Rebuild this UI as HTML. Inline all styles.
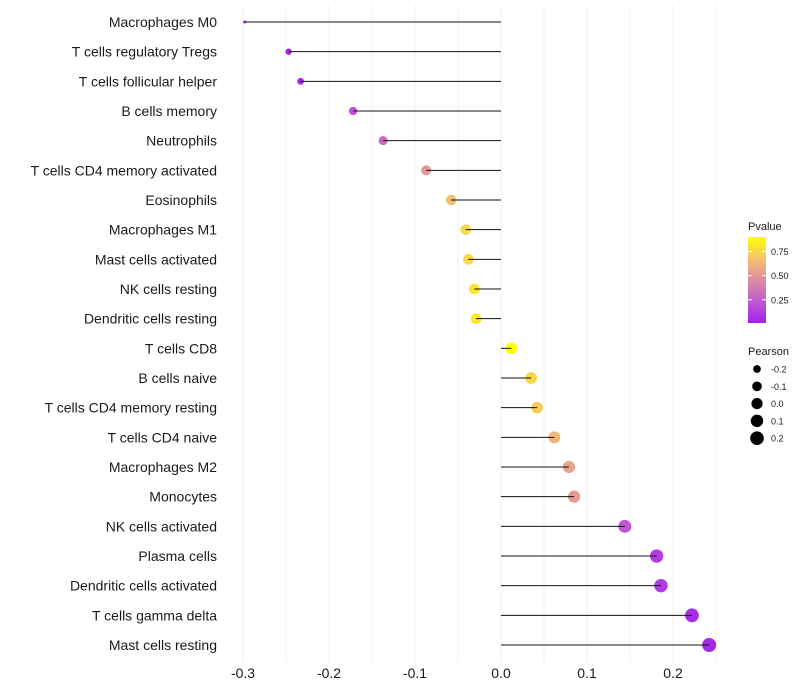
<!DOCTYPE html>
<html><head><meta charset="utf-8"><style>
body{margin:0;background:#fff;}
svg{font-family:"Liberation Sans",sans-serif;display:block}
</style></head><body>
<svg id="c" width="800" height="700"></svg>
<script>
const categories=["Macrophages M0","T cells regulatory  Tregs","T cells follicular helper","B cells memory","Neutrophils","T cells CD4 memory activated","Eosinophils","Macrophages M1","Mast cells activated","NK cells resting","Dendritic cells resting","T cells CD8","B cells naive","T cells CD4 memory resting","T cells CD4 naive","Macrophages M2","Monocytes","NK cells activated","Plasma cells","Dendritic cells activated","T cells gamma delta","Mast cells resting"];
const pearson=[-0.298,-0.247,-0.233,-0.172,-0.137,-0.087,-0.058,-0.041,-0.038,-0.031,-0.029,0.012,0.035,0.042,0.062,0.079,0.085,0.144,0.181,0.186,0.222,0.242];
const pvalues=[0.01,0.04,0.05,0.2,0.3,0.5,0.65,0.75,0.76,0.8,0.82,0.9,0.75,0.72,0.62,0.55,0.52,0.22,0.12,0.11,0.06,0.04];
const xTicks=[-0.3,-0.2,-0.1,0.0,0.1,0.2];
const pTicks=[0.25,0.5,0.75];
const sizeTicks=[-0.2,-0.1,0.0,0.1,0.2];
const NS="http://www.w3.org/2000/svg",svg=document.getElementById('c');
function el(t,a,p){const e=document.createElementNS(NS,t);for(const k in a)e.setAttribute(k,a[k]);(p||svg).appendChild(e);return e;}
const x=v=>501+v*860;
const y=i=>22+i*(623/(categories.length-1));
const pmin=0.01,pmax=0.9;
const smin=Math.min(...pearson),smax=Math.max(...pearson);
function rad(v){let t=(v-smin)/(smax-smin);t=Math.max(0,Math.min(1,t));return (3+11*Math.sqrt(t))/2;}
const stops=[[0,[160,32,240]],[0.25,[192,90,210]],[0.5,[222,140,160]],[0.75,[245,195,110]],[1,[255,255,0]]];
function col(p){let t=(p-pmin)/(pmax-pmin);t=Math.max(0,Math.min(1,t));for(let i=1;i<stops.length;i++){if(t<=stops[i][0]){const a=stops[i-1],b=stops[i];const f=(t-a[0])/(b[0]-a[0]);return 'rgb('+a[1].map((c,j)=>Math.round(c+(b[1][j]-c)*f)).join(',')+')';}}return 'rgb(255,255,0)';}
for(let k=-6;k<=5;k++){const v=k*0.05;const g=el('line',{x1:x(v),x2:x(v),y1:5,y2:662,stroke:'#f0f0f0','stroke-width':1});
}
xTicks.forEach(v=>{const t=el('text',{x:x(v),y:678,'text-anchor':'middle','font-size':14,fill:'#1a1a1a'});t.textContent=v.toFixed(1);
});
categories.forEach((c,i)=>{
const t=el('text',{x:217,y:y(i)+5,'text-anchor':'end','font-size':14,fill:'#1a1a1a'});t.textContent=c;

const d=el('circle',{cx:x(pearson[i]),cy:y(i),r:rad(pearson[i]),fill:col(pvalues[i])});

const l=el('line',{x1:x(0),x2:x(pearson[i]),y1:y(i),y2:y(i),stroke:'#111','stroke-width':1});

});
const defs=el('defs',{});const lg=el('linearGradient',{id:'pg',x1:0,y1:1,x2:0,y2:0},defs);
stops.forEach(s=>el('stop',{offset:s[0],'stop-color':'rgb('+s[1].join(',')+')'},lg));
const pt=el('text',{x:748,y:230,'font-size':11,fill:'#1a1a1a'});pt.textContent='Pvalue';

const cb=el('rect',{x:748,y:237,width:18,height:86,fill:'url(#pg)'});

const py=p=>323-(p-pmin)/(pmax-pmin)*86;
pTicks.forEach(p=>{el('line',{x1:748,x2:752,y1:py(p),y2:py(p),stroke:'#fff'});el('line',{x1:762,x2:766,y1:py(p),y2:py(p),stroke:'#fff'});
const t=el('text',{x:771,y:py(p)+3.5,'font-size':9,fill:'#1a1a1a'});t.textContent=p.toFixed(2);
});
const st=el('text',{x:748,y:355,'font-size':11,fill:'#1a1a1a'});st.textContent='Pearson';

sizeTicks.forEach((v,i)=>{const cy=369+i*17.3;const d=el('circle',{cx:757,cy:cy,r:rad(v),fill:'#000'});

const t=el('text',{x:771,y:cy+3.5,'font-size':9,fill:'#1a1a1a'});t.textContent=v.toFixed(1);
});
</script>
</body></html>
